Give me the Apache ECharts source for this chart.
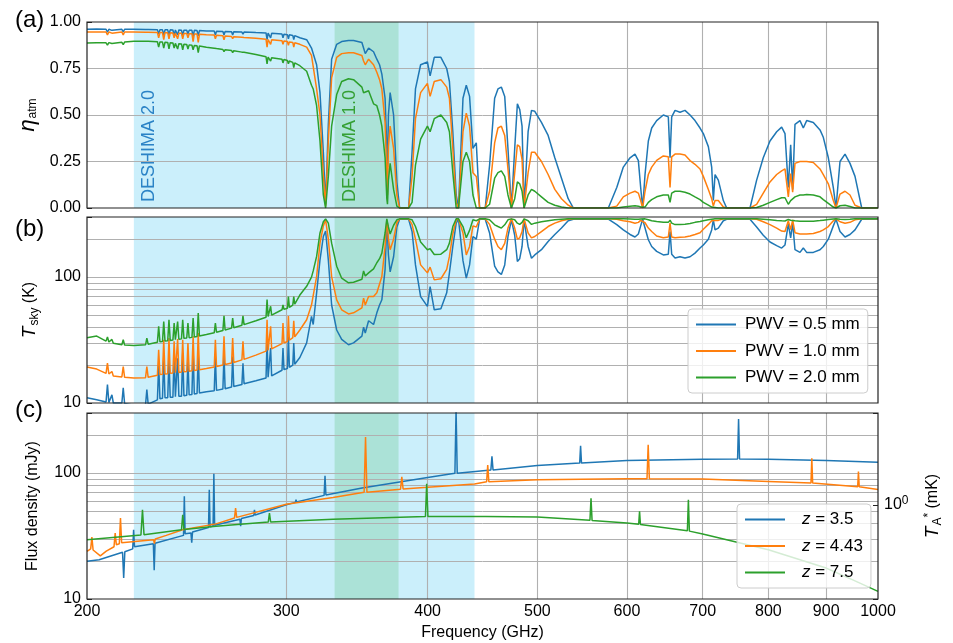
<!DOCTYPE html>
<html><head><meta charset="utf-8">
<script src="https://cdn.jsdelivr.net/npm/echarts@6/dist/echarts.min.js"></script>
<style>html,body{margin:0;padding:0;background:#fff}#chart{width:953px;height:643px}</style>
</head><body><div id="chart"></div>
<script>
// ---------- data ----------
const freqs = [200.0,204.0,207.9,208.5,209.1,209.8,210.4,211.0,214.7,215.3,
215.9,220.0,225.3,225.9,226.5,230.8,231.4,232.0,233.2,233.8,
234.4,235.7,236.3,236.9,238.2,238.8,239.4,239.9,240.5,241.1,
242.4,243.0,243.6,245.0,245.6,246.2,247.6,248.2,248.8,250.2,
250.8,251.4,255.0,259.1,259.7,260.3,263.7,264.3,264.9,268.4,
269.0,269.6,274.1,274.7,275.3,282.0,287.9,288.5,289.1,290.0,
290.6,291.2,297.4,298.0,298.6,300.7,301.3,301.9,304.0,304.6,
305.2,308.4,312.7,315.8,316.9,319.1,321.3,323.5,325.0,326.8,
329.0,332.4,335.8,340.5,344.0,349.9,351.1,352.3,354.7,358.3,
360.7,362.7,364.4,366.8,368.1,368.6,369.3,370.6,373.2,375.7,
377.8,384.8,387.5,390.2,394.3,399.8,402.0,405.4,410.9,415.8,
418.1,421.0,423.9,425.9,429.8,432.7,435.6,438.6,441.6,444.6,
449.7,453.7,458.4,461.5,464.7,467.9,471.0,474.3,477.5,480.1,
482.4,484.7,486.7,490.7,494.1,497.4,504.2,511.1,518.1,525.2,
532.4,538.0,577.7,587.7,595.6,603.8,609.9,614.1,617.0,619.5,
622.5,626.7,631.0,637.4,646.1,652.7,655.0,657.2,661.7,668.4,
675.2,682.2,689.1,696.2,700.9,708.1,712.9,715.3,717.8,722.6,
730.0,735.0,770.7,781.2,791.8,802.7,813.7,822.0,827.6,833.2,
837.2,840.6,844.6,853.2,859.0,864.9,876.7,888.7,894.7,903.9,
913.1,918.1,925.6,935.1,944.6,954.3,967.4,1000];

const etaPwv05 = [.961,.962,.961,.945,.961,.961,.955,.961,.961,.946,
.961,.961,.960,.950,.960,.959,.935,.959,.958,.930,
.958,.958,.930,.958,.957,.925,.957,.957,.930,.957,
.956,.925,.956,.956,.935,.955,.955,.920,.955,.954,
.925,.954,.952,.951,.930,.950,.949,.930,.949,.948,
.930,.947,.946,.935,.946,.943,.941,.905,.940,.940,
.915,.939,.935,.915,.934,.932,.910,.931,.928,.905,
.927,.915,.905,.860,.870,.770,.620,.300,.020,.450,
.800,.880,.895,.900,.900,.890,.860,.830,.860,.840,
.800,.770,.720,.590,.320,.220,.500,.620,.500,.140,
0,0,.300,.640,.770,.785,.710,.810,.810,.750,
.680,.410,.070,0,.590,.660,.600,.320,.350,0,
0,.230,.590,.640,.650,.600,.320,0,.320,.560,
.530,.440,0,.410,.525,.520,.460,.390,.270,.160,
.050,0,0,.110,.220,.270,.290,.255,.110,0,
.180,.360,.430,.470,.500,.490,.270,.490,.525,.515,
.525,.500,.470,.430,.400,.330,.220,.040,.180,.150,
.040,0,0,.150,.270,.360,.410,.435,.400,.110,
.340,.100,.450,.470,.430,.470,.460,.420,.380,.270,
.110,0,.250,.290,.240,.170,0,0];

const etaPwv10 = [.946,.946,.946,.930,.946,.946,.940,.946,.946,.931,
.946,.946,.945,.935,.945,.944,.915,.943,.943,.905,
.943,.942,.910,.942,.941,.915,.940,.940,.910,.939,
.939,.910,.938,.938,.915,.937,.937,.895,.936,.935,
.890,.934,.932,.930,.910,.929,.926,.905,.925,.922,
.910,.921,.918,.910,.917,.912,.907,.865,.906,.905,
.880,.904,.899,.880,.898,.895,.875,.893,.890,.865,
.888,.880,.865,.820,.820,.640,.500,.180,.010,.360,
.700,.810,.830,.835,.835,.820,.790,.770,.800,.770,
.730,.690,.640,.460,.180,.070,.330,.440,.320,.070,
0,0,.170,.480,.620,.670,.600,.680,.690,.650,
.590,.320,.030,0,.410,.510,.440,.190,.170,0,
0,.090,.350,.430,.440,.390,.210,0,.190,.340,
.330,.260,0,.190,.300,.300,.250,.180,.100,.050,
.015,0,0,.010,.060,.080,.090,.080,.040,0,
.090,.180,.220,.256,.280,.275,.110,.275,.290,.290,
.285,.255,.235,.210,.170,.100,.050,.010,.040,.040,
.005,0,0,.020,.080,.140,.180,.200,.210,.060,
.185,.085,.240,.250,.250,.250,.245,.210,.180,.130,
.040,0,.075,.090,.070,.015,0,0];

const etaPwv20 = [.887,.889,.888,.876,.889,.889,.884,.890,.891,.879,
.892,.897,.896,.888,.896,.894,.865,.893,.892,.860,
.891,.890,.855,.889,.887,.860,.885,.884,.855,.883,
.882,.850,.881,.879,.855,.877,.875,.850,.874,.872,
.835,.871,.864,.859,.850,.857,.852,.840,.851,.847,
.835,.846,.838,.830,.837,.825,.813,.775,.811,.810,
.790,.808,.800,.780,.798,.793,.775,.790,.783,.755,
.780,.765,.735,.660,.640,.550,.360,.070,0,.170,
.440,.610,.680,.695,.690,.650,.620,.630,.630,.560,
.550,.500,.440,.270,.050,.020,.150,.240,.100,.010,
0,0,.030,.230,.370,.440,.410,.480,.500,.460,
.410,.190,0,0,.250,.300,.250,.070,0,0,
0,.020,.160,.190,.200,.170,.070,0,.050,.140,
.130,.090,0,.070,.100,.090,.060,.030,.015,.005,
0,0,0,0,.005,.010,.012,.010,.005,0,
.005,.030,.045,.060,.070,.070,.030,.080,.090,.090,
.085,.075,.060,.045,.030,.015,.005,0,.003,0,
0,0,0,.003,.015,.030,.045,.055,.055,.020,
.040,.030,.060,.070,.070,.072,.070,.060,.045,.025,
.005,0,.012,.015,.008,0,0,0];

const tskyPwv05 = [11.0,10.6,10.2,14.0,10.1,10.0,11.6,10.0,10.0,13.2,
9.9,9.6,9.7,12.8,9.8,10.6,20.1,10.8,10.9,23.4,
11.0,11.0,22.1,11.1,11.1,24.9,11.2,11.2,22.7,11.3,
11.3,24.9,11.4,11.5,21.4,11.6,11.7,26.5,11.8,11.9,
24.9,12.0,12.3,12.5,23.4,12.6,12.9,24.0,13.0,13.4,
23.4,13.5,14.0,20.7,14.2,15.0,15.8,31.8,16.0,16.2,
27.3,16.4,18.2,27.3,18.4,18.8,33.8,19.2,20.0,30.0,
20.3,23.0,30.0,48.8,42.0,75.0,137,210,232,137,
60,38,32,29,30,34,40,36,45,42,
52,60,66,115,268,220,150,110,145,250,
288,288,230,125,70,58.6,84,55,56,75,
108,175,268,288,135,98,125,210,200,288,
288,224,122,110,105,125,210,285,215,133,
140,175,285,175,141,150,165,192,218,245,
280,288,288,261,237,218,208,220,255,288,
245,198,175,160,150,152,230,152,142,145,
142,145,155,170,180,200,237,285,237,245,
280,288,288,250,215,190,178,170,180,265,
205,270,165,157,170,157,157,165,175,200,
255,288,230,208,218,237,288,288];

const tskyPwv10 = [19.3,18.6,17.2,20.7,17.0,16.6,17.8,16.4,16.1,19.5,
16.0,15.8,15.9,19.5,16.0,16.6,26.5,16.8,16.9,31.8,
17.0,17.1,32.8,17.2,17.3,30.9,17.4,17.4,32.2,17.5,
17.6,31.8,17.7,17.8,29.9,17.9,18.0,33.8,18.1,18.3,
35.9,18.4,18.8,19.3,31.8,19.5,20.0,33.8,20.2,20.8,
32.8,21.0,22.0,30.9,22.2,24.0,25.8,45.8,26.2,26.5,
40.6,26.9,29.6,43.2,30.0,30.8,49.0,31.5,33.0,45.0,
33.5,38.0,45.8,60.0,62.0,101,186,255,285,200,
101,66,55,51,52,57,68,60,70,70,
75,88,101,175,285,265,200,165,200,270,
290,290,262,200,125,108,120,95,97,115,
146,220,285,290,224,150,175,255,250,290,
290,262,200,175,165,185,245,290,245,200,
205,230,290,224,205,210,230,252,268,280,
288,290,290,288,280,275,268,272,282,290,
270,245,230,212,205,208,268,208,205,207,
208,212,218,225,240,262,280,290,282,282,
290,290,290,288,275,261,245,232,230,280,
238,285,225,220,220,220,222,230,237,252,
280,290,275,268,272,285,290,290];

const tskyPwv20 = [33.0,34.0,31.0,33.4,30.5,30.0,32.0,29.8,29.0,31.8,
28.9,28.6,29.0,32.8,29.3,30.4,40.6,30.6,30.8,44.4,
31.0,31.2,45.8,31.4,31.6,43.2,31.8,31.9,44.4,32.1,
32.3,45.8,32.6,32.8,43.2,33.0,33.2,47.3,33.4,33.7,
51.8,34.0,35.0,36.2,43.2,36.5,37.6,49.3,38.0,39.3,
47.3,39.6,41.5,49.3,41.9,45.0,48.0,66.2,48.6,49.0,
58.6,49.8,55.0,60.2,55.4,56.5,70.0,57.5,60.0,70.0,
61.0,72.0,84.5,100,112,146,224,275,290,268,
186,122,98,90,91,96,112,102,108,116,
130,140,155,224,290,285,250,220,258,285,
290,290,285,252,190,165,168,151,152,165,
186,252,290,290,252,205,235,285,280,290,
290,285,260,252,245,260,285,290,285,268,
262,272,290,280,262,268,275,280,285,288,
290,290,290,290,290,289,288,288,289,290,
290,285,280,276,272,272,283,268,261,262,
263,266,272,276,280,285,288,290,290,290,
290,290,290,290,288,285,282,280,279,287,
283,286,280,277,277,277,278,281,283,286,
289,290,288,287,288,290,290,290];

const fluxFreqZ35 = [200,205,215.0,215.5,216.0,219.5,219.9,220.3,228.9,229.3,229.7,243.4,243.8,244.2,247.1,247.5,247.9,256.1,256.5,256.9,258.5,258.9,259.3,273.0,273.4,273.8,280.8,281.2,281.6,300,305.6,306.0,306.4,324.0,324.6,325.2,350,400,422.8,423.8,424.8,454.9,455.9,456.9,500,545.0,546.0,547.0,600,700,751.5,753.0,754.5,800,900,1000];
const fluxZ35 = [19.9,20.5,23.5,14.7,23.7,25.0,35.5,26.0,27.5,16.9,27.7,32.0,65.4,33.0,33.5,28.0,34.0,37.0,73.7,37.5,38.0,98.9,38.5,43.0,37.8,43.5,46.0,51.0,46.5,56.0,58.5,61.5,59.0,66.5,95.0,67.0,76.0,92.3,99.5,320,99.5,106,136,106,115,120,165,120,126,129,129.5,269,129.5,129,126,122];

const fluxFreqZ443 = [200,201.5,202.0,202.5,205.5,208,211.3,211.8,212.3,213.6,214.1,214.6,229.0,229.4,229.8,235,243,260,270.0,270.6,271.2,300,330,351.5,352.5,353.5,378.5,379.5,380.5,400,440,451.0,452.0,453.0,500,600,625.0,626.5,628.0,700,800,872.5,874.0,875.5,959.5,961.0,962.5,1000];
const fluxZ443 = [23.9,25.0,31.0,24.5,22.0,24.0,26.0,33.4,27.0,27.5,43.9,28.0,29.5,27.5,30.0,32.0,35.5,39.5,44.0,52.8,44.5,56.6,64.0,70.5,193,70.5,74.5,93.2,74.8,77.0,82.0,85.5,116,85.5,88.5,90.2,90.2,168,90.2,89.6,85.8,83.5,131,83.5,78.0,103,78.0,74.0];

const fluxFreqZ75 = [200,223.2,223.9,224.6,242.4,243.0,243.6,260,289.2,289.9,290.6,330,398.2,399.2,400.2,450,500,556.5,557.7,558.9,600,614.5,615.6,616.7,678.5,679.9,681.3,700,800,900,950,1000];
const fluxZ75 = [29.6,32.2,51.0,32.4,35.5,46.7,35.6,37.8,40.8,48.0,40.9,43.0,45.3,82.2,45.3,45.3,44.8,42.2,63.0,42.1,40.1,39.2,49.6,39.1,34.8,61.4,34.6,32.8,24.6,17.6,14.2,11.5];

const pwvNames = ['PWV = 0.5 mm','PWV = 1.0 mm','PWV = 2.0 mm'];
const zNames = ['z = 3.5','z = 4.43','z = 7.5'];
const bandD2 = [220, 440];
const bandD1 = [331, 377];
const freqTicks = [200,300,400,500,600,700,800,900,1000];
const etaTicks = [0.25,0.5,0.75];
const logGridVals = [20,30,40,50,60,70,80,90,100,200];
const mJyPerMK = 56;

// ---------- chart ----------
const COLORS = ['#1f77b4','#ff7f0e','#2ca02c'];
const GRID_COLOR = '#b0b0b0';
const chart = echarts.init(document.getElementById('chart'), null, {renderer:'canvas'});
const pairs = (xs, ys) => xs.map((x, i) => [x, ys[i]]);
const FONT = "'Liberation Sans', Arial, Helvetica, sans-serif";

function markers(panel) {
  const lines = [];
  freqTicks.forEach(v => {
    const edge = (v === 200 || v === 1000);
    const pos = v === 200 ? 200.001 : v === 1000 ? 999.99 : v;
    const item = { xAxis: pos, lineStyle: { color: edge ? 'rgba(0,0,0,0)' : GRID_COLOR, width: 1.1 } };
    item.label = panel === 2
      ? { show: true, position: 'start', formatter: String(v), color: '#000', fontSize: 16, distance: 5, fontFamily: FONT }
      : { show: false };
    lines.push(item);
  });
  (panel === 0 ? etaTicks : logGridVals).forEach(v => {
    lines.push({ yAxis: v, label: { show: false }, lineStyle: { color: GRID_COLOR, width: 1 } });
  });
  const lbl = (txt, color) => ({
    show: panel === 0, position: 'insideBottomLeft', distance: 6, rotate: 90,
    align: 'left', verticalAlign: 'top', formatter: txt, color: color, fontSize: 18, fontFamily: FONT
  });
  return {
    markArea: {
      silent: true, z: 0, animation: false,
      data: [
        [{ xAxis: bandD2[0], itemStyle: { color: '#cbeffb' }, label: lbl('DESHIMA 2.0', '#2b83c6') }, { xAxis: bandD2[1] }],
        [{ xAxis: bandD1[0], itemStyle: { color: '#abe2d7' }, label: lbl('DESHIMA 1.0', '#35a035') }, { xAxis: bandD1[1] }]
      ]
    },
    markLine: {
      silent: true, z: 1, animation: false, symbol: ['none','none'],
      lineStyle: { type: 'solid', color: GRID_COLOR, width: 1 },
      data: lines
    }
  };
}

function line(name, data, color, xi, yi, extra) {
  return Object.assign({
    type: 'line', name: name, xAxisIndex: xi, yAxisIndex: yi, data: data,
    symbol: 'none', showSymbol: false, z: 3, clip: true, animation: false,
    lineStyle: { color: color, width: 1.5 }, itemStyle: { color: color },
    emphasis: { disabled: true }
  }, extra || {});
}

const etaSets = [etaPwv05, etaPwv10, etaPwv20];
const tskySets = [tskyPwv05, tskyPwv10, tskyPwv20];
const fluxSets = [[fluxFreqZ35, fluxZ35], [fluxFreqZ443, fluxZ443], [fluxFreqZ75, fluxZ75]];

const series = [];
etaSets.forEach((s, i) => series.push(line(pwvNames[i], pairs(freqs, s), COLORS[i], 0, 0, i === 0 ? markers(0) : null)));
tskySets.forEach((s, i) => series.push(line(pwvNames[i], pairs(freqs, s), COLORS[i], 1, 1, i === 0 ? markers(1) : null)));
fluxSets.forEach((s, i) => series.push(line(zNames[i], pairs(s[0], s[1]), COLORS[i], 2, 2, i === 0 ? markers(2) : null)));

const isPow = (v, p) => Math.abs(Math.log10(v) - p) < 1e-6;
const logLabel = v => (isPow(v, 1) ? '10' : isPow(v, 2) ? '100' : '');
const gridBase = { left: 87, width: 791, height: 186, show: true, backgroundColor: 'transparent',
  borderColor: '#222', borderWidth: 1.2, z: 10, containLabel: false, outerBoundsMode: 'none' };
const xBase = { type: 'log', logBase: 10, min: 200, max: 1000,
  axisLine: { show: false }, axisTick: { show: false }, axisLabel: { show: false }, splitLine: { show: false } };
const yTick = { show: true, inside: true, length: 5, lineStyle: { color: '#222', width: 1 } };
const yLabel = { color: '#000', fontSize: 16, margin: 6, fontFamily: FONT };
const nameRich = {
  i: { fontStyle: 'italic', fontSize: 19, color: '#000', fontFamily: FONT },
  ie: { fontStyle: 'italic', fontSize: 22, color: '#000', fontFamily: FONT },
  sub: { fontSize: 12, color: '#000', padding: [10, 0, 0, 1], fontFamily: FONT },
  sup: { fontSize: 12, color: '#000', padding: [0, 0, 9, 0], fontFamily: FONT },
  n: { fontSize: 16, color: '#000', fontFamily: FONT }
};
const legendBase = { orient: 'vertical', icon: 'rect', itemWidth: 40, itemHeight: 2, itemGap: 9.5,
  padding: [7, 8, 7, 8], backgroundColor: 'rgba(255,255,255,0.8)', borderColor: '#cccccc', borderWidth: 1,
  borderRadius: 4, selectedMode: false };
const titleStyle = { fontSize: 24, fontWeight: 'normal', color: '#000', fontFamily: FONT };

const option = {
  animation: false,
  textStyle: { fontFamily: FONT },
  title: [
    { text: '(a)', left: 10, top: 3, textStyle: titleStyle },
    { text: '(b)', left: 10, top: 212, textStyle: titleStyle },
    { text: '(c)', left: 10, top: 393, textStyle: titleStyle }
  ],
  grid: [
    Object.assign({ top: 22 }, gridBase),
    Object.assign({ top: 217 }, gridBase),
    Object.assign({ top: 413 }, gridBase)
  ],
  xAxis: [
    Object.assign({ gridIndex: 0 }, xBase),
    Object.assign({ gridIndex: 1 }, xBase),
    Object.assign({ gridIndex: 2, name: 'Frequency (GHz)', nameLocation: 'middle', nameGap: 26,
      nameTextStyle: { fontSize: 16, color: '#000', fontFamily: FONT } }, xBase)
  ],
  yAxis: [
    { gridIndex: 0, type: 'value', min: 0, max: 1, interval: 0.25,
      axisLabel: Object.assign({ formatter: v => v.toFixed(2) }, yLabel),
      axisTick: yTick, axisLine: { show: false }, splitLine: { show: false },
      name: '{ie|η}{sub|atm}', nameLocation: 'middle', nameGap: 46, nameRotate: 90,
      nameTextStyle: { fontSize: 16, color: '#000', rich: nameRich } },
    { gridIndex: 1, type: 'log', logBase: 10, min: 10, max: 300,
      axisLabel: Object.assign({ formatter: logLabel }, yLabel),
      axisTick: yTick, axisLine: { show: false }, splitLine: { show: false }, minorTick: { show: false },
      name: '{i|T}{sub|sky}{n| (K)}', nameLocation: 'middle', nameGap: 46, nameRotate: 90,
      nameTextStyle: { fontSize: 16, color: '#000', rich: nameRich } },
    { gridIndex: 2, type: 'log', logBase: 10, min: 10, max: 300,
      axisLabel: Object.assign({ formatter: logLabel }, yLabel),
      axisTick: yTick, axisLine: { show: false }, splitLine: { show: false },
      name: 'Flux density (mJy)', nameLocation: 'middle', nameGap: 46, nameRotate: 90,
      nameTextStyle: { fontSize: 16, color: '#000', fontFamily: FONT } },
    { gridIndex: 2, type: 'log', logBase: 10, position: 'right', min: 10 / mJyPerMK, max: 300 / mJyPerMK,
      axisLabel: { formatter: v => (isPow(v, 0) ? '{n|10}{sup|0}' : ''), margin: 6, rich: nameRich },
      axisTick: yTick, axisLine: { show: false }, splitLine: { show: false },
      name: '{i|T}{sub|A}{sup|*}{n| (mK)}', nameLocation: 'middle', nameGap: 44, nameRotate: 90,
      nameTextStyle: { fontSize: 16, color: '#000', rich: nameRich } }
  ],
  legend: [
    Object.assign({ data: pwvNames, left: 688, top: 309,
      textStyle: { fontSize: 17, color: '#000', fontFamily: FONT, padding: [0, 0, 0, 4] } }, legendBase),
    Object.assign({ data: zNames, left: 737, top: 504,
      formatter: n => n.replace('z', '{i|z}'),
      textStyle: { fontSize: 17, color: '#000', fontFamily: FONT, padding: [0, 0, 0, 12],
        rich: { i: { fontStyle: 'italic', fontSize: 17, color: '#000', fontFamily: FONT } } } }, legendBase)
  ],
  series: series
};
chart.setOption(option);
</script>
</body></html>
